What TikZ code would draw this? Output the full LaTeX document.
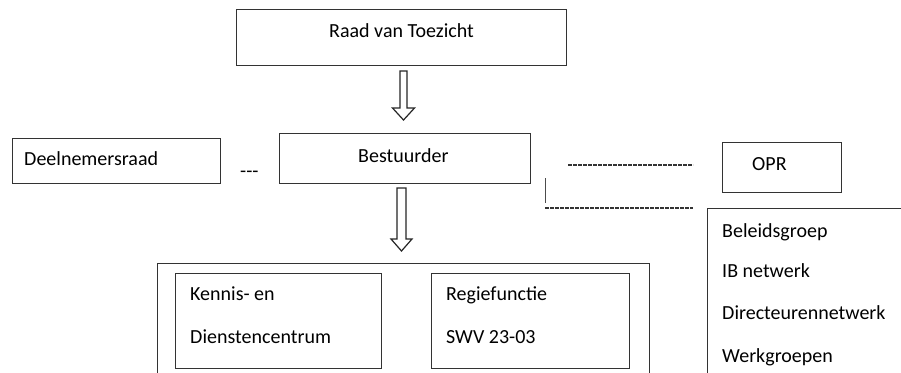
\documentclass[tikz,border=0pt]{standalone}
\usepackage{fontspec}
\setmainfont{Carlito}
\begin{document}
\begin{tikzpicture}[x=1pt,y=-1pt,
  box/.style={draw=black!80,line width=1.4pt,rectangle,anchor=north west,inner sep=0pt},
  txt/.style={anchor=base west,inner sep=0pt,text=black,font=\fontsize{20}{24}\selectfont},
  hollow/.style={draw=black!85,line width=1.2pt,fill=white,line join=miter},
  dline/.style={draw=black!80,line width=1.2pt,dash pattern=on 3.6pt off 1.4pt}]
\clip (0,0) rectangle (901,372);
\fill[white] (0,0) rectangle (901,372);
% boxes
\node[box,minimum width=330pt,minimum height=56pt] (raad) at (236,9) {};
\node[box,minimum width=251pt,minimum height=50pt] (best) at (279,133) {};
\node[box,minimum width=208pt,minimum height=45pt] (deel) at (12,138) {};
\node[box,minimum width=119pt,minimum height=50pt] (opr) at (722,142) {};
\node[box,minimum width=220pt,minimum height=200pt] (lijst) at (707,208) {};
\node[box,minimum width=492pt,minimum height=150pt] (outer) at (157,263) {};
\node[box,line width=1.1pt,minimum width=206pt,minimum height=95pt] (kennis) at (175,273) {};
\node[box,line width=1.1pt,minimum width=198pt,minimum height=95pt] (regie) at (431,273) {};
% texts
\node[txt] (traad) at (329,37) {Raad van Toezicht};
\node[txt] (tbest) at (358,162) {Bestuurder};
\node[txt] (tdeel) at (24,165) {Deelnemersraad};
\node[txt] (tdash) at (240,177) {{-}{-}{-}};
\node[txt] (topr) at (752,170) {OPR};
\node[txt] (tk1) at (190,300) {Kennis- en};
\node[txt] (tk2) at (190,343) {Dienstencentrum};
\node[txt] (tr1) at (446,300) {Regiefunctie};
\node[txt] (tr2) at (446,343) {SWV 23-03};
\node[txt] (tl1) at (722,237) {Beleidsgroep};
\node[txt] (tl2) at (722,277) {IB netwerk};
\node[txt] (tl3) at (722,319) {Directeurennetwerk};
\node[txt] (tl4) at (722,362) {Werkgroepen};
% hollow arrows
\coordinate (a1s) at (403.5,71);
\coordinate (a1t) at (403.5,120);
\draw[hollow] (a1s) ++(-3.5,0) -- ++(7,0) -- ++(0,37) -- ++(7.5,0) -- (a1t) -- ++(-11,-12) -- ++(7.5,0) -- cycle;
\coordinate (a2s) at (401.5,188);
\coordinate (a2t) at (401.5,251);
\draw[hollow] (a2s) ++(-4.5,0) -- ++(9,0) -- ++(0,51) -- ++(6,0) -- (a2t) -- ++(-10.5,-12) -- ++(6,0) -- cycle;
% dashed links
\coordinate (d1a) at (568,165);
\coordinate (d1b) at (693,165);
\draw[dline] (d1a) -- (d1b);
\coordinate (v1) at (545,178);
\coordinate (v2) at (545,203);
\draw[draw=black!70,line width=1pt] (v1) -- (v2);
\coordinate (d2a) at (545,208);
\coordinate (d2b) at (693,208);
\draw[dline] (d2a) -- (d2b);
\end{tikzpicture}
\end{document}
